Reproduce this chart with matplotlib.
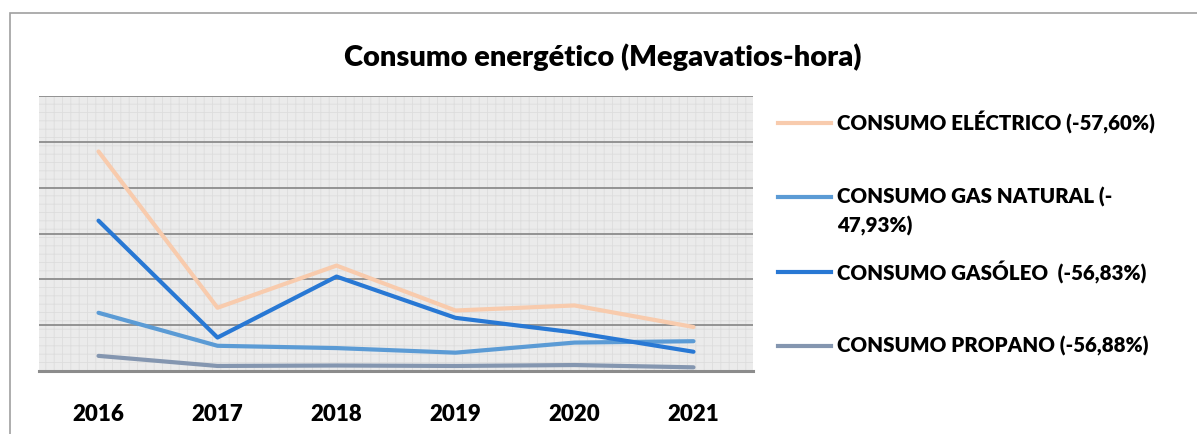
import matplotlib.pyplot as plt
from matplotlib.lines import Line2D
from matplotlib.patches import Rectangle
import numpy as np

plt.rcParams['font.family'] = ['Lato', 'DejaVu Sans']
plt.rcParams['hatch.linewidth'] = 0.6

# Datos (escala arbitraria: el eje Y no tiene etiquetas)
years = ['2016', '2017', '2018', '2019', '2020', '2021']
electrico = [4.79, 1.38, 2.30, 1.32, 1.43, 0.96]
gas_natural = [1.27, 0.55, 0.50, 0.40, 0.62, 0.65]
gasoleo = [3.28, 0.73, 2.06, 1.16, 0.84, 0.42]
propano = [0.33, 0.11, 0.12, 0.11, 0.13, 0.08]

labels = ['CONSUMO ELÉCTRICO (-57,60%)',
          'CONSUMO GAS NATURAL (-\n47,93%)',
          'CONSUMO GASÓLEO  (-56,83%)',
          'CONSUMO PROPANO (-56,88%)']
colors = ['#F8CBAD', '#5B9BD5', '#2878D4', '#8496B0']
series = [electrico, gas_natural, gasoleo, propano]

fig = plt.figure(figsize=(11.97, 4.34), dpi=100)
W, H = 1197, 434
weight = 'heavy'

# marco exterior del gráfico
fig.add_artist(Rectangle((10 / W, -0.1), 1.2, 1 - 13 / H + 0.1, transform=fig.transFigure,
                         fill=False, edgecolor='#A0A0A0', linewidth=1.2))

ax = fig.add_axes([39 / W, 63 / H, 714 / W, 275 / H])
ax.set_facecolor('#EBEBEB')
ax.patch.set_edgecolor('#DDDDDD')
ax.patch.set_hatch('++')

x = np.arange(len(years))
for vals, c in zip(series, colors):
    ax.plot(x, vals, color=c, linewidth=3, solid_capstyle='round', zorder=3)

ax.set_xlim(-0.5, len(years) - 0.5)
ax.set_ylim(0, 6)
ax.set_yticks(range(0, 7))
ax.set_yticklabels([])
ax.grid(axis='y', color='#8C8C8C', linewidth=1.3, zorder=1)
ax.set_axisbelow(True)
ax.set_xticks(x)
ax.set_xticklabels(years, fontsize=16, fontweight=weight)
ax.tick_params(axis='x', length=0, pad=24)
ax.tick_params(axis='y', length=0)
for s in ['left', 'right', 'top']:
    ax.spines[s].set_visible(False)
ax.spines['bottom'].set_color('#8C8C8C')
ax.spines['bottom'].set_linewidth(2.2)

fig.text(603 / W, 1 - 57 / H, 'Consumo energético (Megavatios-hora)',
         ha='center', va='center', fontsize=21, fontweight=weight)

# leyenda manual
rows_y = [123, 197, 272, 346]
for lab, c, yy in zip(labels, colors, rows_y):
    fy = 1 - yy / H
    fig.add_artist(Line2D([778 / W, 831 / W], [fy, fy], transform=fig.transFigure,
                          color=c, linewidth=3))
    fig.text(837 / W, fy, lab.split('\n')[0], ha='left', va='center',
             fontsize=14.8, fontweight=weight)
    if '\n' in lab:
        fig.text(837 / W, 1 - (yy + 29) / H, lab.split('\n')[1], ha='left', va='center',
                 fontsize=14.8, fontweight=weight)

fig.savefig('out.png', dpi=100)
